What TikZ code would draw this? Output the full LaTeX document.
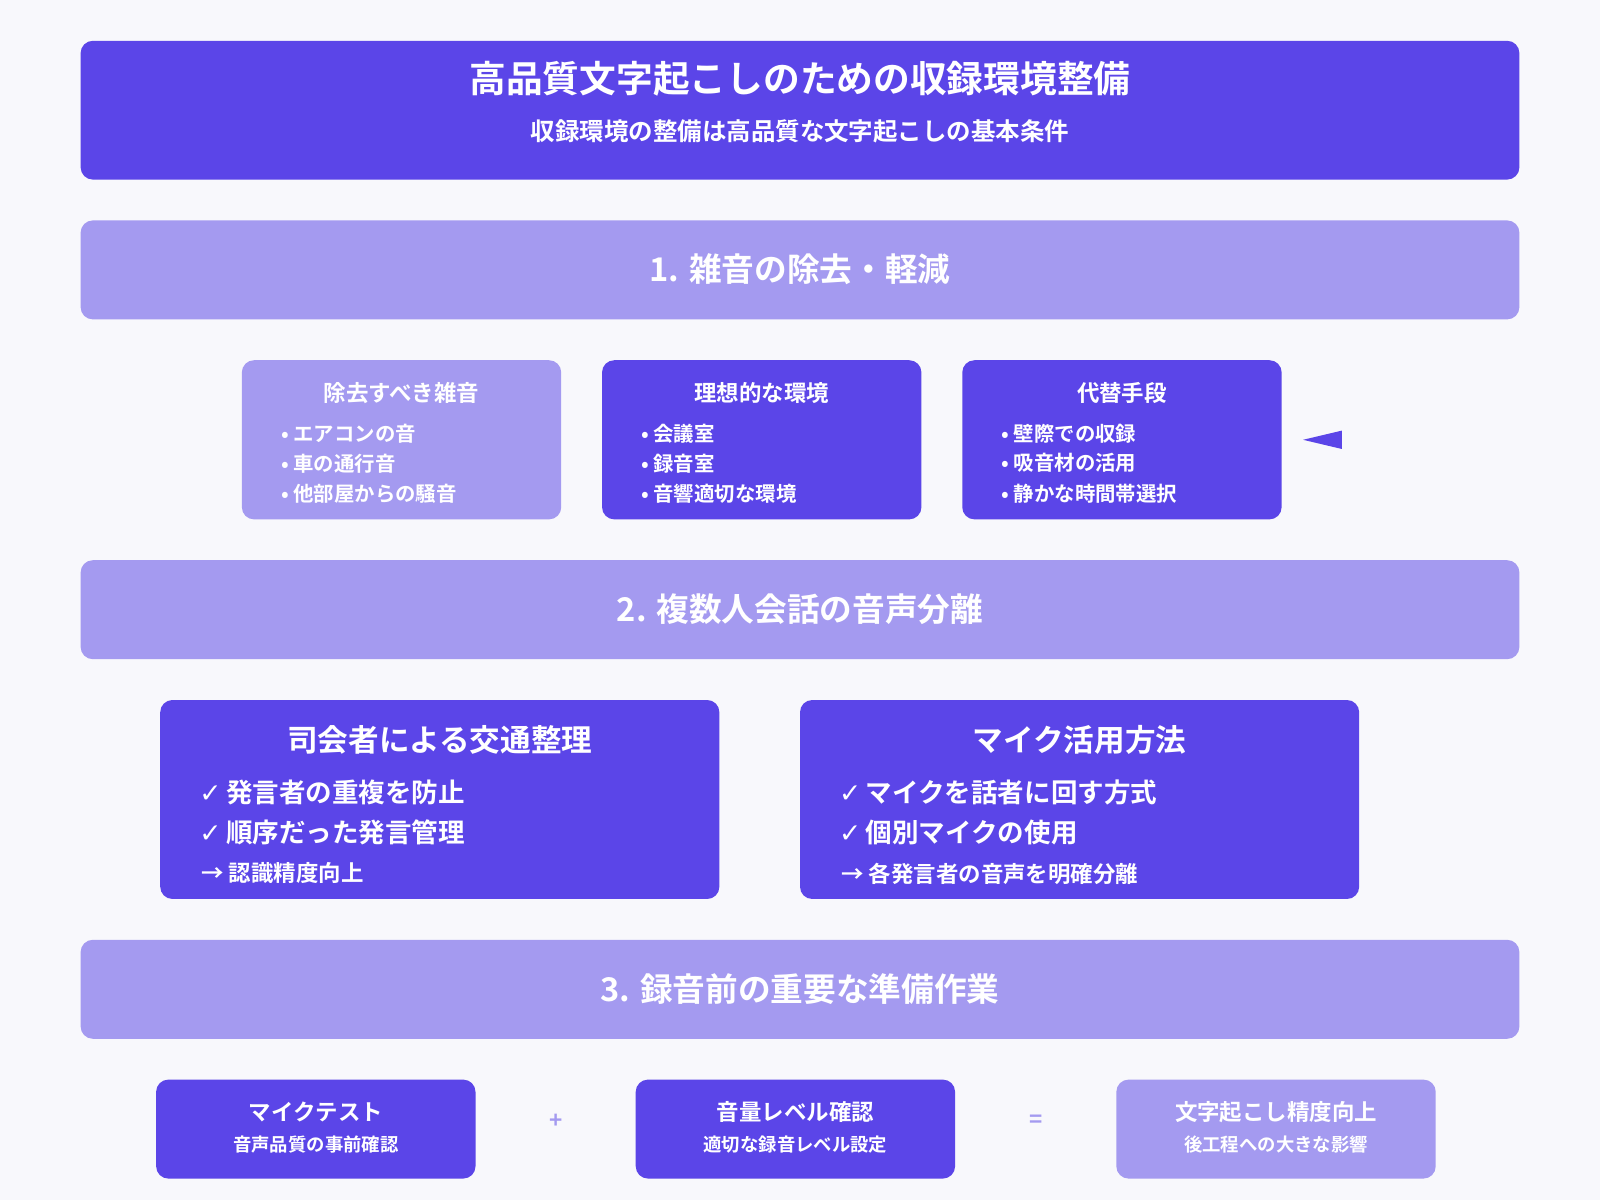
\documentclass[tikz,border=0pt]{standalone}
\usepackage{fontspec}
\setmainfont{Noto Sans CJK JP}[BoldFont={* Bold}]
\newfontfamily\dv{DejaVu Sans}
\definecolor{dark}{HTML}{5B45E8}
\definecolor{light}{HTML}{A49AF0}
\definecolor{bg}{HTML}{F8F8FC}
\newcommand{\fs}[1]{\fontsize{#1}{#1}\selectfont\bfseries}
\newcommand{\ck}{{\dv\bfseries ✓}\,}
\tikzset{
 box/.style={rounded corners=6pt, draw=none},
 wt/.style={text=white, inner sep=0pt},
 item/.style={text=white, inner sep=0pt, anchor=west, font=\fs{10}},
}
\begin{document}
\begin{tikzpicture}[x=0.5pt,y=-0.5pt]
\fill[bg] (0,0) rectangle (1568,1176);
\useasboundingbox (0,0) rectangle (1568,1176);
% title
\fill[box,dark] (79,40) rectangle (1489,176);
\node[wt,font=\fs{18}] (t) at (784,77) {高品質文字起こしのための収録環境整備};
\node[wt,font=\fs{12}] (st) at (784,129) {収録環境の整備は高品質な文字起こしの基本条件};
% sections
\foreach \y/\txt in {216/1. 雑音の除去・軽減, 549/2. 複数人会話の音声分離, 921/3. 録音前の重要な準備作業}{
 \fill[box,light] (79,\y) rectangle (1489,\y+97);
 \node[wt,font=\fs{16}] at (784,\y+48) {\txt};
}
% row 1 boxes
\fill[box,light] (237,353) rectangle (550,509);
\fill[box,dark] (590,353) rectangle (903,509);
\fill[box,dark] (943,353) rectangle (1256,509);
\node[wt,font=\fs{11}] (b1) at (393.5,385) {除去すべき雑音};
\node[item] at (275,425) {• エアコンの音};
\node[item] at (275,454) {• 車の通行音};
\node[item] at (275,484) {• 他部屋からの騒音};
\node[wt,font=\fs{11}] (b2) at (746.5,385) {理想的な環境};
\node[item] at (628,425) {• 会議室};
\node[item] at (628,454) {• 録音室};
\node[item] at (628,484) {• 音響適切な環境};
\node[wt,font=\fs{11}] (b3) at (1099.5,385) {代替手段};
\node[item] at (981,425) {• 壁際での収録};
\node[item] at (981,454) {• 吸音材の活用};
\node[item] at (981,484) {• 静かな時間帯選択};
\fill[dark] (1277,431) -- (1315,422) -- (1315,440) -- cycle;
% row 2 boxes
\fill[box,dark] (157,686) rectangle (705,881);
\fill[box,dark] (784,686) rectangle (1332,881);
\node[wt,font=\fs{15}] (c1) at (431,725) {司会者による交通整理};
\node[item,font=\fs{13}] at (195,777) {\ck 発言者の重複を防止};
\node[item,font=\fs{13}] at (195,816) {\ck 順序だった発言管理};
\node[item,font=\fs{11}] at (197,856) {→ 認識精度向上};
\node[wt,font=\fs{15}] (c2) at (1058,725) {マイク活用方法};
\node[item,font=\fs{13}] at (822,777) {\ck マイクを話者に回す方式};
\node[item,font=\fs{13}] at (822,816) {\ck 個別マイクの使用};
\node[item,font=\fs{11}] at (824,856) {→ 各発言者の音声を明確分離};
% row 3
\fill[box,dark] (153,1058) rectangle (466,1155);
\fill[box,dark] (623,1058) rectangle (936,1155);
\fill[box,light] (1094,1058) rectangle (1407,1155);
\node[wt,font=\fs{11}] (d1) at (309.5,1090) {マイクテスト};
\node[wt,font=\fs{9}] at (309.5,1122) {音声品質の事前確認};
\node[wt,font=\fs{11}] (d2) at (779.5,1090) {音量レベル確認};
\node[wt,font=\fs{9}] at (779.5,1122) {適切な録音レベル設定};
\node[wt,font=\fs{11}] (d3) at (1250.5,1090) {文字起こし精度向上};
\node[wt,font=\fs{9}] at (1250.5,1122) {後工程への大きな影響};
\node[inner sep=0pt,text=light,font=\fs{11}] (p) at (545,1099) {+};
\node[inner sep=0pt,text=light,font=\fs{11}] (e) at (1015,1099) {=};
\end{tikzpicture}
\end{document}
